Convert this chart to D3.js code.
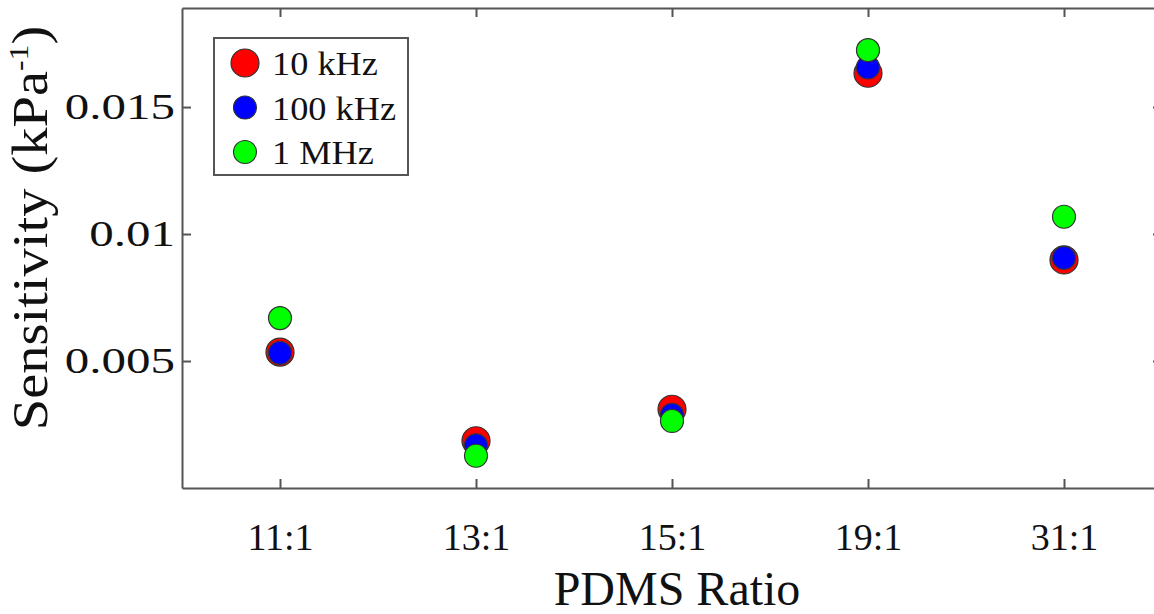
<!DOCTYPE html>
<html>
<head>
<meta charset="utf-8">
<script src="https://cdn.jsdelivr.net/npm/d3@7"></script>
<style>
body { margin: 0; background: #fff; }
.axis path, .axis line { stroke: #555; stroke-width: 2; }
</style>
</head>
<body>
<svg id="chart" width="1154" height="614"></svg>
<script>
// data
var ratios = ["11:1", "13:1", "15:1", "19:1", "31:1"];
var sens10k = [0.00535, 0.00186, 0.00310, 0.01633, 0.00898];
var sens100k = [0.00532, 0.00168, 0.00288, 0.01656, 0.00906];
var sens1M = [0.00669, 0.00127, 0.00264, 0.01724, 0.01068];
var yTicks = [0.005, 0.01, 0.015];
var yTickLabels = ["0.005", "0.01", "0.015"];
var seriesNames = ["10 kHz", "100 kHz", "1 MHz"];

var series = [
  {name: seriesNames[0], values: sens10k, color: "#ff0000", r: 14},
  {name: seriesNames[1], values: sens100k, color: "#0000ff", r: 11.5},
  {name: seriesNames[2], values: sens1M, color: "#00ff00", r: 11.5}
];

var SERIF = "'Liberation Serif', 'Times New Roman', serif";

var margin = {top: 8, right: -8, bottom: 126, left: 182},
    W = 1154, H = 614,
    width = W - margin.left - margin.right,
    height = H - margin.top - margin.bottom;

var svg = d3.select("#chart");
var g = svg.append("g")
    .attr("transform", "translate(" + margin.left + "," + margin.top + ")");

var x = d3.scalePoint().domain(ratios).range([0, width]).padding(0.5);
var y = d3.scaleLinear().domain([0, 0.0189]).range([height, 0]);

// axes, ticks pointing inwards
var xAxis = d3.axisBottom(x).tickSizeInner(-9).tickSizeOuter(0).tickPadding(35);
var yAxis = d3.axisLeft(y).tickValues(yTicks)
    .tickFormat(function(d, i) { return yTickLabels[i]; })
    .tickSizeInner(-9).tickSizeOuter(0).tickPadding(7);

var gx = g.append("g").attr("class", "axis")
    .attr("transform", "translate(0," + height + ")")
    .call(xAxis);
gx.selectAll("text")
    .style("font-family", SERIF)
    .style("font-size", "38px")
    .style("fill", "#111");

g.append("g").attr("class", "axis")
    .call(d3.axisTop(x).tickSizeInner(-9).tickSizeOuter(0).tickFormat(""));

var gy = g.append("g").attr("class", "axis")
    .call(yAxis);
// the original serif is much wider, so stretch the y tick labels
gy.selectAll("text")
    .style("font-family", SERIF)
    .style("font-size", "36px")
    .style("fill", "#111")
    .each(function() {
      var len = this.getComputedTextLength();
      d3.select(this).attr("textLength", len * 1.36).attr("lengthAdjust", "spacingAndGlyphs");
    });

g.append("g").attr("class", "axis")
    .attr("transform", "translate(" + width + ",0)")
    .call(d3.axisRight(y).tickValues(yTicks).tickSizeInner(-9).tickSizeOuter(0).tickFormat(""));

// points
series.forEach(function(s) {
  g.selectAll(null)
    .data(s.values)
    .enter().append("circle")
    .attr("cx", function(d, i) { return x(ratios[i]); })
    .attr("cy", function(d) { return y(d); })
    .attr("r", s.r)
    .attr("fill", s.color)
    .attr("stroke", "#333")
    .attr("stroke-width", 1.2);
});

// axis titles
svg.append("text")
    .attr("x", margin.left + width / 2 + 5)
    .attr("y", 605)
    .attr("text-anchor", "middle")
    .style("font-family", SERIF)
    .style("font-size", "48px")
    .style("fill", "#111")
    .text("PDMS Ratio");

var yt = svg.append("text")
    .attr("transform", "translate(47,228) rotate(-90) scale(1.13,1)")
    .attr("text-anchor", "middle")
    .style("font-family", SERIF)
    .style("font-size", "50px")
    .style("fill", "#111");
yt.append("tspan").text("Sensitivity (kPa");
yt.append("tspan").attr("dy", -19).style("font-size", "28px").text("-1");
yt.append("tspan").attr("dy", 19).text(")");

// legend
var legend = svg.append("g");
legend.append("rect")
    .attr("x", 214).attr("y", 38)
    .attr("width", 194).attr("height", 137)
    .attr("fill", "#fff")
    .attr("stroke", "#555")
    .attr("stroke-width", 2);

var li = legend.selectAll("g.item")
    .data(series)
    .enter().append("g")
    .attr("class", "item")
    .attr("transform", function(d, i) { return "translate(245," + (63 + i * 44.5) + ")"; });
li.append("circle")
    .attr("r", function(d) { return d.r; })
    .attr("fill", function(d) { return d.color; })
    .attr("stroke", "#333")
    .attr("stroke-width", 1.2);
li.append("text")
    .attr("x", 27)
    .attr("y", 12)
    .style("font-family", SERIF)
    .style("font-size", "33px")
    .style("fill", "#111")
    .text(function(d) { return d.name; })
    .each(function() {
      var len = this.getComputedTextLength();
      d3.select(this).attr("textLength", len * 1.1).attr("lengthAdjust", "spacingAndGlyphs");
    });
</script>
</body>
</html>
